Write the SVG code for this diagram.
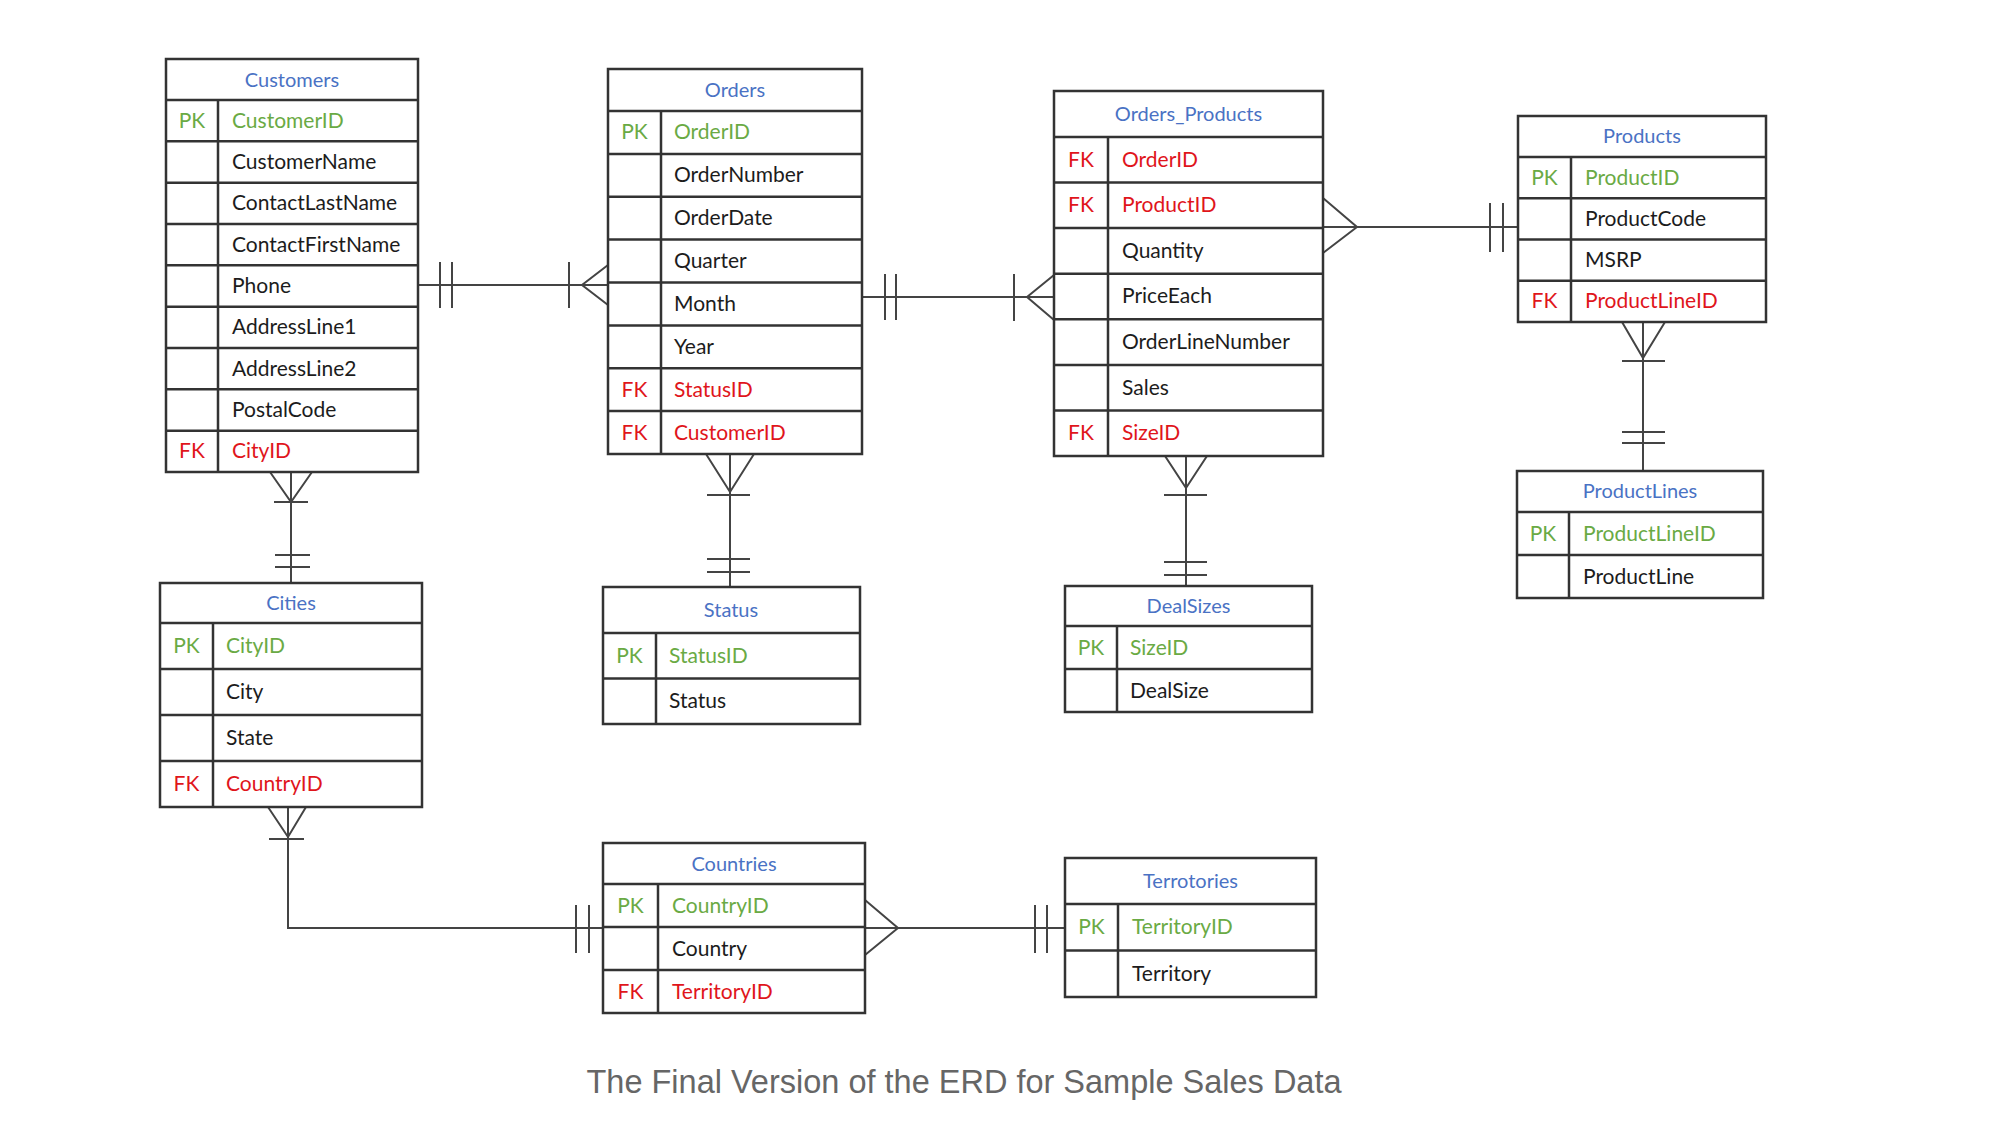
<svg xmlns="http://www.w3.org/2000/svg" width="2000" height="1130" viewBox="0 0 2000 1130">
<style>
.box{fill:#fff;stroke:#333;stroke-width:2.5}
.ln{stroke:#333;stroke-width:2.5}
text{font-family:Lato,"Open Sans",sans-serif;font-size:21px}
.hd{fill:#4a72c4;text-anchor:middle;font-size:20px}
.pk{fill:#6aaa44}
.fk{fill:#e0151b}
.tx{fill:#1c1c1c}
.k{text-anchor:middle}
.conn line,.conn polyline{stroke:#444;stroke-width:2;fill:none}
.cap{font-family:"Liberation Sans",Arial,sans-serif;font-size:32.5px;fill:#666;text-anchor:middle}
</style>
<rect width="2000" height="1130" fill="#fff"/>

<g id="connectors" class="conn">
  <!-- Customers - Orders -->
  <line x1="418" y1="285" x2="608" y2="285"/>
  <line x1="440" y1="262" x2="440" y2="308"/>
  <line x1="452" y1="262" x2="452" y2="308"/>
  <line x1="569" y1="262" x2="569" y2="308"/>
  <polyline points="608,265 582,285 608,305"/>
  <!-- Orders - Orders_Products -->
  <line x1="862" y1="297" x2="1054" y2="297"/>
  <line x1="885" y1="274" x2="885" y2="320"/>
  <line x1="896" y1="274" x2="896" y2="320"/>
  <line x1="1014" y1="274" x2="1014" y2="321"/>
  <polyline points="1054,275 1027,297 1054,320"/>
  <!-- Orders_Products - Products -->
  <line x1="1323" y1="227" x2="1518" y2="227"/>
  <polyline points="1323,198 1357,227 1323,253"/>
  <line x1="1490" y1="203" x2="1490" y2="252"/>
  <line x1="1503" y1="203" x2="1503" y2="252"/>
  <!-- Products - ProductLines -->
  <line x1="1643" y1="322" x2="1643" y2="471"/>
  <polyline points="1622,322 1643,358 1665,322"/>
  <line x1="1622" y1="361" x2="1665" y2="361"/>
  <line x1="1622" y1="432" x2="1665" y2="432"/>
  <line x1="1622" y1="443" x2="1665" y2="443"/>
  <!-- Customers - Cities -->
  <line x1="291" y1="472" x2="291" y2="583"/>
  <polyline points="270,472 291,502 312,472"/>
  <line x1="274" y1="502" x2="308" y2="502"/>
  <line x1="275" y1="555" x2="310" y2="555"/>
  <line x1="275" y1="567" x2="310" y2="567"/>
  <!-- Orders - Status -->
  <line x1="730" y1="454" x2="730" y2="587"/>
  <polyline points="706,454 730,492 754,454"/>
  <line x1="707" y1="495" x2="750" y2="495"/>
  <line x1="707" y1="559" x2="750" y2="559"/>
  <line x1="707" y1="572" x2="750" y2="572"/>
  <!-- Orders_Products - DealSizes -->
  <line x1="1186" y1="456" x2="1186" y2="586"/>
  <polyline points="1165,456 1186,488 1207,456"/>
  <line x1="1164" y1="495" x2="1207" y2="495"/>
  <line x1="1164" y1="562" x2="1207" y2="562"/>
  <line x1="1164" y1="575" x2="1207" y2="575"/>
  <!-- Cities - Countries -->
  <polyline points="288,807 288,928 603,928"/>
  <polyline points="268,807 288,837 306,807"/>
  <line x1="269" y1="839" x2="304" y2="839"/>
  <line x1="576" y1="905" x2="576" y2="953"/>
  <line x1="589" y1="905" x2="589" y2="953"/>
  <!-- Countries - Territories -->
  <line x1="865" y1="928" x2="1065" y2="928"/>
  <polyline points="865,900 898,928 865,955"/>
  <line x1="1035" y1="905" x2="1035" y2="953"/>
  <line x1="1047" y1="905" x2="1047" y2="953"/>
</g>

<g id="customers">
  <rect class="box" x="166" y="59" width="252" height="413"/>
  <line class="ln" x1="166" y1="100" x2="418" y2="100"/>
  <line class="ln" x1="166" y1="141.3" x2="418" y2="141.3"/>
  <line class="ln" x1="166" y1="182.7" x2="418" y2="182.7"/>
  <line class="ln" x1="166" y1="224" x2="418" y2="224"/>
  <line class="ln" x1="166" y1="265.3" x2="418" y2="265.3"/>
  <line class="ln" x1="166" y1="306.7" x2="418" y2="306.7"/>
  <line class="ln" x1="166" y1="348" x2="418" y2="348"/>
  <line class="ln" x1="166" y1="389.3" x2="418" y2="389.3"/>
  <line class="ln" x1="166" y1="430.7" x2="418" y2="430.7"/>
  <line class="ln" x1="218" y1="100" x2="218" y2="472"/>
  <text class="hd" x="292" y="87">Customers</text>
  <text class="pk k" x="192" y="128">PK</text><text class="pk" x="232" y="128">CustomerID</text>
  <text class="tx" x="232" y="169">CustomerName</text>
  <text class="tx" x="232" y="210">ContactLastName</text>
  <text class="tx" x="232" y="252">ContactFirstName</text>
  <text class="tx" x="232" y="293">Phone</text>
  <text class="tx" x="232" y="334">AddressLine1</text>
  <text class="tx" x="232" y="376">AddressLine2</text>
  <text class="tx" x="232" y="417">PostalCode</text>
  <text class="fk k" x="192" y="458">FK</text><text class="fk" x="232" y="458">CityID</text>
</g>

<g id="orders">
  <rect class="box" x="608" y="69" width="254" height="385"/>
  <line class="ln" x1="608" y1="111" x2="862" y2="111"/>
  <line class="ln" x1="608" y1="153.9" x2="862" y2="153.9"/>
  <line class="ln" x1="608" y1="196.8" x2="862" y2="196.8"/>
  <line class="ln" x1="608" y1="239.6" x2="862" y2="239.6"/>
  <line class="ln" x1="608" y1="282.5" x2="862" y2="282.5"/>
  <line class="ln" x1="608" y1="325.4" x2="862" y2="325.4"/>
  <line class="ln" x1="608" y1="368.3" x2="862" y2="368.3"/>
  <line class="ln" x1="608" y1="411.1" x2="862" y2="411.1"/>
  <line class="ln" x1="661" y1="111" x2="661" y2="454"/>
  <text class="hd" x="735" y="97">Orders</text>
  <text class="pk k" x="634.5" y="139">PK</text><text class="pk" x="674" y="139">OrderID</text>
  <text class="tx" x="674" y="182">OrderNumber</text>
  <text class="tx" x="674" y="225">OrderDate</text>
  <text class="tx" x="674" y="268">Quarter</text>
  <text class="tx" x="674" y="311">Month</text>
  <text class="tx" x="674" y="354">Year</text>
  <text class="fk k" x="634.5" y="397">FK</text><text class="fk" x="674" y="397">StatusID</text>
  <text class="fk k" x="634.5" y="440">FK</text><text class="fk" x="674" y="440">CustomerID</text>
</g>

<g id="orders_products">
  <rect class="box" x="1054" y="91" width="269" height="365"/>
  <line class="ln" x1="1054" y1="137" x2="1323" y2="137"/>
  <line class="ln" x1="1054" y1="182.6" x2="1323" y2="182.6"/>
  <line class="ln" x1="1054" y1="228.1" x2="1323" y2="228.1"/>
  <line class="ln" x1="1054" y1="273.7" x2="1323" y2="273.7"/>
  <line class="ln" x1="1054" y1="319.3" x2="1323" y2="319.3"/>
  <line class="ln" x1="1054" y1="364.9" x2="1323" y2="364.9"/>
  <line class="ln" x1="1054" y1="410.4" x2="1323" y2="410.4"/>
  <line class="ln" x1="1108" y1="137" x2="1108" y2="456"/>
  <text class="hd" x="1188.5" y="121">Orders_Products</text>
  <text class="fk k" x="1081" y="167">FK</text><text class="fk" x="1122" y="167">OrderID</text>
  <text class="fk k" x="1081" y="212">FK</text><text class="fk" x="1122" y="212">ProductID</text>
  <text class="tx" x="1122" y="258">Quantity</text>
  <text class="tx" x="1122" y="303">PriceEach</text>
  <text class="tx" x="1122" y="349">OrderLineNumber</text>
  <text class="tx" x="1122" y="395">Sales</text>
  <text class="fk k" x="1081" y="440">FK</text><text class="fk" x="1122" y="440">SizeID</text>
</g>

<g id="products">
  <rect class="box" x="1518" y="116" width="248" height="206"/>
  <line class="ln" x1="1518" y1="157" x2="1766" y2="157"/>
  <line class="ln" x1="1518" y1="198.3" x2="1766" y2="198.3"/>
  <line class="ln" x1="1518" y1="239.5" x2="1766" y2="239.5"/>
  <line class="ln" x1="1518" y1="280.8" x2="1766" y2="280.8"/>
  <line class="ln" x1="1571" y1="157" x2="1571" y2="322"/>
  <text class="hd" x="1642" y="143">Products</text>
  <text class="pk k" x="1544.5" y="185">PK</text><text class="pk" x="1585" y="185">ProductID</text>
  <text class="tx" x="1585" y="226">ProductCode</text>
  <text class="tx" x="1585" y="267">MSRP</text>
  <text class="fk k" x="1544.5" y="308">FK</text><text class="fk" x="1585" y="308">ProductLineID</text>
</g>

<g id="productlines">
  <rect class="box" x="1517" y="471" width="246" height="127"/>
  <line class="ln" x1="1517" y1="512" x2="1763" y2="512"/>
  <line class="ln" x1="1517" y1="555" x2="1763" y2="555"/>
  <line class="ln" x1="1569" y1="512" x2="1569" y2="598"/>
  <text class="hd" x="1640" y="498">ProductLines</text>
  <text class="pk k" x="1543" y="541">PK</text><text class="pk" x="1583" y="541">ProductLineID</text>
  <text class="tx" x="1583" y="584">ProductLine</text>
</g>

<g id="cities">
  <rect class="box" x="160" y="583" width="262" height="224"/>
  <line class="ln" x1="160" y1="623" x2="422" y2="623"/>
  <line class="ln" x1="160" y1="669" x2="422" y2="669"/>
  <line class="ln" x1="160" y1="715" x2="422" y2="715"/>
  <line class="ln" x1="160" y1="761" x2="422" y2="761"/>
  <line class="ln" x1="213" y1="623" x2="213" y2="807"/>
  <text class="hd" x="291" y="610">Cities</text>
  <text class="pk k" x="186.5" y="653">PK</text><text class="pk" x="226" y="653">CityID</text>
  <text class="tx" x="226" y="699">City</text>
  <text class="tx" x="226" y="745">State</text>
  <text class="fk k" x="186.5" y="791">FK</text><text class="fk" x="226" y="791">CountryID</text>
</g>

<g id="status">
  <rect class="box" x="603" y="587" width="257" height="137"/>
  <line class="ln" x1="603" y1="633" x2="860" y2="633"/>
  <line class="ln" x1="603" y1="678.5" x2="860" y2="678.5"/>
  <line class="ln" x1="656" y1="633" x2="656" y2="724"/>
  <text class="hd" x="731" y="617">Status</text>
  <text class="pk k" x="629.5" y="663">PK</text><text class="pk" x="669" y="663">StatusID</text>
  <text class="tx" x="669" y="708">Status</text>
</g>

<g id="dealsizes">
  <rect class="box" x="1065" y="586" width="247" height="126"/>
  <line class="ln" x1="1065" y1="626" x2="1312" y2="626"/>
  <line class="ln" x1="1065" y1="669" x2="1312" y2="669"/>
  <line class="ln" x1="1117" y1="626" x2="1117" y2="712"/>
  <text class="hd" x="1188.5" y="613">DealSizes</text>
  <text class="pk k" x="1091" y="655">PK</text><text class="pk" x="1130" y="655">SizeID</text>
  <text class="tx" x="1130" y="698">DealSize</text>
</g>

<g id="countries">
  <rect class="box" x="603" y="843" width="262" height="170"/>
  <line class="ln" x1="603" y1="884" x2="865" y2="884"/>
  <line class="ln" x1="603" y1="927" x2="865" y2="927"/>
  <line class="ln" x1="603" y1="970" x2="865" y2="970"/>
  <line class="ln" x1="658" y1="884" x2="658" y2="1013"/>
  <text class="hd" x="734" y="871">Countries</text>
  <text class="pk k" x="630.5" y="913">PK</text><text class="pk" x="672" y="913">CountryID</text>
  <text class="tx" x="672" y="956">Country</text>
  <text class="fk k" x="630.5" y="999">FK</text><text class="fk" x="672" y="999">TerritoryID</text>
</g>

<g id="territories">
  <rect class="box" x="1065" y="858" width="251" height="139"/>
  <line class="ln" x1="1065" y1="904" x2="1316" y2="904"/>
  <line class="ln" x1="1065" y1="950.5" x2="1316" y2="950.5"/>
  <line class="ln" x1="1118" y1="904" x2="1118" y2="997"/>
  <text class="hd" x="1190.5" y="888">Terrotories</text>
  <text class="pk k" x="1091.5" y="934">PK</text><text class="pk" x="1132" y="934">TerritoryID</text>
  <text class="tx" x="1132" y="981">Territory</text>
</g>

<text class="cap" x="964" y="1093">The Final Version of the ERD for Sample Sales Data</text>
</svg>
